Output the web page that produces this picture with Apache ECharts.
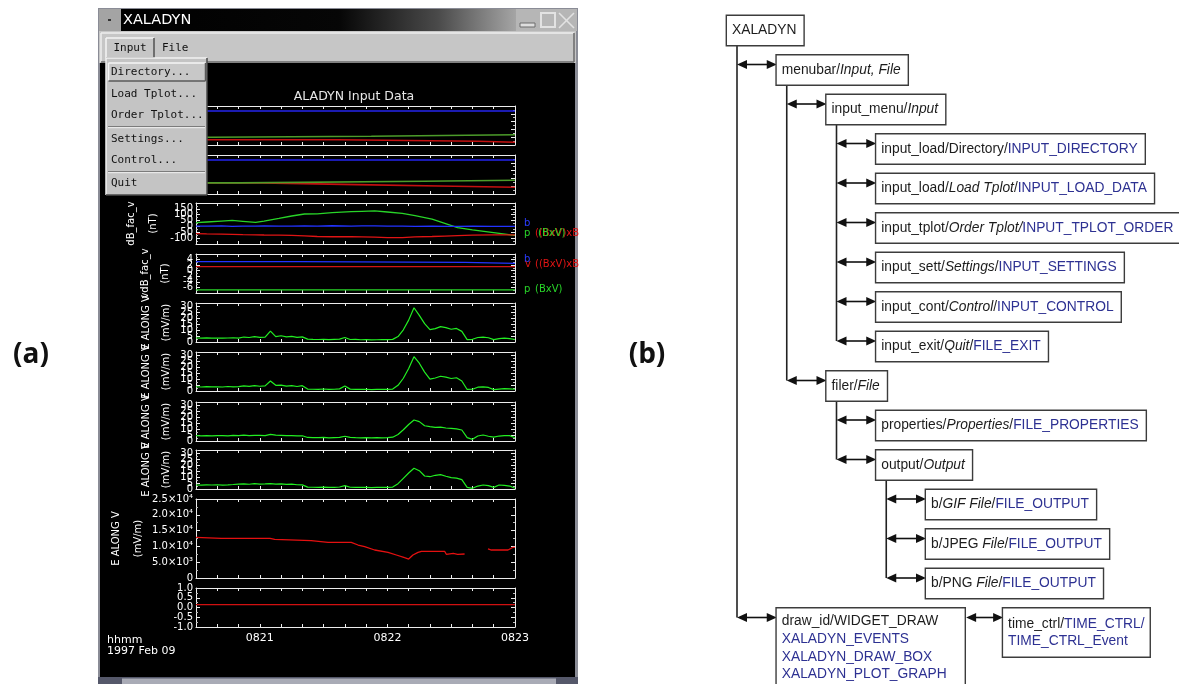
<!DOCTYPE html>
<html>
<head>
<meta charset="utf-8">
<title>XALADYN</title>
<script src="https://cdn.jsdelivr.net/npm/echarts@6/dist/echarts.min.js"></script>
<style>
  html, body { margin: 0; padding: 0; background: #fff; }
  #main { width: 1179px; height: 684px; }
</style>
</head>
<body>
<div id="main"></div>
<script>
// ---- values, time = seconds after 08:20:00 ----
// top two panels (step lines)
const p1BlueT = [30, 180];              const p1BlueV = [8.7, 8.7];
const p1GreenT = [30, 37.2, 112.4, 180]; const p1GreenV = [1.97, 2.23, 2.64, 2.64];
const p1RedT = [30, 96.5, 162.6, 180];   const p1RedV = [1.36, 0.95, 0.69, 0.69];
const p2BlueT = [30, 180];              const p2BlueV = [8.7, 8.7];
const p2GreenT = [30, 50.5, 137.2, 180]; const p2GreenV = [2.84, 3.28, 3.54, 3.54];
const p2RedT = [30, 60.4, 105.4, 151.3, 180]; const p2RedV = [2.84, 2.4, 1.99, 1.73, 1.73];

// dB_fac_v (nT)
const dbTime = [30, 35, 42, 47, 52, 58, 62, 69, 75, 81, 87, 94, 103, 108, 114, 120, 127, 133, 141, 147, 153, 160, 169, 178, 180];
const dbGreen = [32, 38, 46, 52, 44, 35, 46, 69, 89, 106, 108, 117, 126, 129, 132, 123, 112, 92, 63, 27, -11, -30, -50, -73, -75];
const dbBlue = [3, 2, 4, 1, 3, 2, 5, 2, 3, 4, 2, 6, 3, 5, 4, 2, 3, 1, 2, 0, 1, 2, 0, 1, 1];
const dbRed = [-62, -64, -66, -68, -70, -72, -73, -74, -76, -80, -86, -88, -88, -89, -92, -95, -95, -90, -86, -82, -78, -74, -72, -72, -72];

// vdB_fac_v (nT)
const vdbBlueT = [30, 78.7, 156.3, 180]; const vdbBlueV = [3.24, 3.0, 2.66, 2.66];
const vdbRedT = [30, 180];   const vdbRedV = [1.44, 1.44];
const vdbGreenT = [30, 180]; const vdbGreenV = [-6.9, -6.9];

// E ALONG panels (mV/m)
const eTime = [30, 32.5, 35, 37.5, 40, 42.5, 45, 47.5, 50, 52.5, 55, 57.5, 60, 62.5, 65, 67.5, 70, 72.5, 75, 77.5,
  80, 82.5, 85, 87.5, 90, 92.5, 95, 97.5, 100, 102.5, 105, 107.5, 110, 112.5, 115, 117.5, 120, 122.5, 125, 127.5,
  130, 132.5, 135, 137.5, 140, 142.5, 145, 147.5, 150, 152.5, 155, 157.5, 160, 162.5, 165, 167.5, 170, 172.5, 175, 177.5, 180];
const eAlong1 = [3.4, 3.2, 3.5, 3.3, 3.4, 3.2, 3.4, 3.6, 3.3, 4.2, 3.8, 4.5, 3.9, 4.1, 9.2, 4.6, 5.3, 4.4, 4.8, 3.9,
  4.3, 2.4, 2.2, 2.1, 2.3, 2.0, 2.2, 2.4, 3.8, 2.1, 2.3, 1.9, 2.0, 1.8, 1.9, 2.0, 2.0, 2.2, 4.6, 10.3,
  18.5, 29.0, 22.5, 15.5, 10.5, 11.3, 13.0, 12.2, 10.8, 11.5, 9.0, 2.0, 2.3, 3.8, 4.2, 3.6, 2.0, 2.8, 3.2, 2.9, 2.1];
const eAlong2 = [3.6, 3.4, 3.7, 3.5, 3.6, 3.4, 3.8, 3.5, 3.7, 4.4, 3.9, 4.6, 4.0, 4.3, 8.5, 4.8, 5.0, 4.2, 4.6, 3.8,
  4.5, 1.6, 1.5, 1.4, 1.7, 1.3, 1.5, 1.8, 4.2, 1.6, 1.4, 1.3, 1.5, 1.2, 1.4, 1.3, 1.4, 1.6, 4.8, 10.8,
  19.0, 29.0, 23.5, 16.0, 10.0, 11.0, 12.5, 11.8, 10.6, 11.2, 8.5, 1.3, 1.5, 3.2, 3.5, 3.0, 1.2, 1.6, 2.0, 1.8, 1.5];
const eAlong3 = [4.5, 4.3, 4.6, 4.4, 4.5, 4.6, 4.4, 4.8, 4.5, 4.9, 4.6, 4.8, 4.7, 4.5, 5.6, 4.9, 4.7, 4.5, 4.6, 4.3,
  4.4, 3.0, 2.9, 2.8, 3.0, 2.7, 2.9, 3.1, 4.0, 3.0, 2.8, 2.7, 2.9, 2.6, 2.8, 2.7, 2.8, 3.2, 5.5, 9.5,
  14.0, 17.8, 16.4, 12.9, 12.1, 11.5, 11.8, 11.0, 10.7, 10.2, 9.3, 2.8, 1.4, 4.2, 5.1, 4.0, 3.3, 4.2, 4.6, 4.5, 2.8];
const eAlong4 = [3.4, 3.3, 3.5, 3.4, 3.6, 3.3, 3.5, 3.8, 4.2, 4.4, 4.0, 4.5, 4.1, 4.3, 4.6, 4.2, 4.4, 3.9, 4.1, 3.6,
  3.5, 1.6, 1.5, 1.4, 1.6, 1.3, 1.4, 1.7, 2.8, 1.5, 1.4, 1.3, 1.4, 1.2, 1.3, 1.4, 1.4, 1.6, 4.5, 9.0,
  13.5, 17.5, 15.5, 11.0, 10.4, 11.6, 12.1, 10.8, 9.6, 9.2, 7.9, 1.4, 0.6, 2.5, 3.4, 2.8, 1.4, 3.4, 3.0, 2.5, 0.6];

// E ALONG V (mV/m), null = data gap
const evTime = [30, 41.9, 64.8, 65.4, 67, 84.2, 92.1, 103, 106.2, 109.3, 114, 120.3, 124.2, 128.1, 130, 132, 134.4, 136,
  146.9, 147.7, 151, 153, 156.3, 160, 167.3, 168.9, 176.7, 179.1, 180];
const evValues = [12880, 12560, 12560, 12880, 12250, 11800, 11300, 11300, 10440, 9900, 8860, 8130, 7280, 6420, 6010, 7280, 8130, 8450,
  8450, 7500, 7800, 7500, 7600, null, 9180, 8860, 8860, 9720, 9720];

// bottom panel
const lastT = [30, 180]; const lastV = [0.15, 0.15];

// tick labels
const timeTicks = [60, 120, 180];
const timeLabels = ['0821', '0822', '0823'];
const eTickValues = [0, 5, 10, 15, 20, 25, 30];
const lastTickValues = [-1, -0.5, 0, 0.5, 1];

// widget tree (b)
const treeLabels = [
  '{n|XALADYN}',
  '{n|menubar/}{i|Input, File}',
  '{n|input_menu/}{i|Input}',
  '{n|input_load/Directory/}{b|INPUT_DIRECTORY}',
  '{n|input_load/}{i|Load Tplot}{n|/}{b|INPUT_LOAD_DATA}',
  '{n|input_tplot/}{i|Order Tplot/}{b|INPUT_TPLOT_ORDER}',
  '{n|input_sett/}{i|Settings}{n|/}{b|INPUT_SETTINGS}',
  '{n|input_cont/}{i|Control}{n|/}{b|INPUT_CONTROL}',
  '{n|input_exit/}{i|Quit}{n|/}{b|FILE_EXIT}',
  '{n|filer/}{i|File}',
  '{n|properties/}{i|Properties}{n|/}{b|FILE_PROPERTIES}',
  '{n|output/}{i|Output}',
  '{n|b/}{i|GIF File}{n|/}{b|FILE_OUTPUT}',
  '{n|b/JPEG }{i|File}{n|/}{b|FILE_OUTPUT}',
  '{n|b/PNG }{i|File}{n|/}{b|FILE_OUTPUT}',
  '{n|draw_id/WIDGET_DRAW}\n{b|XALADYN_EVENTS}\n{b|XALADYN_DRAW_BOX}\n{b|XALADYN_PLOT_GRAPH}',
  '{n|time_ctrl/}{b|TIME_CTRL/}\n{b|TIME_CTRL_Event}'
];
const treeDepth = [0, 1, 2, 3, 3, 3, 3, 3, 3, 2, 3, 3, 4, 4, 4, 1, 5.55];
const treeRow = [0, 1, 2, 3, 4, 5, 6, 7, 8, 9, 10, 11, 12, 13, 14, 15, 15];
const treeParent = [-1, 0, 1, 2, 2, 2, 2, 2, 2, 1, 9, 9, 11, 11, 11, 0, 15];

// ---- layout ----
const PLOT_LEFT = 196, PLOT_W = 319;
const panelTop = [106, 155, 203, 254, 303, 352, 402, 450, 499, 588];
const panelH = [39, 39, 41, 39, 39, 39, 39, 39, 79, 39];
const AX = '#ececec';
const LBL_FONT = 'DejaVu Sans';

const sup = { 3: '\u00b3', 4: '\u2074' };
function sciFmt(v) {
  if (v === 0) return '0';
  const e = Math.floor(Math.log10(v) + 1e-9);
  return (v / Math.pow(10, e)).toFixed(1) + '\u00d710' + sup[e];
}
const eCfg = { min: 0, max: 33, interval: 5, name: 'E ALONG V\n(mV/m)', gap: 20, lh: 20, ticks: eTickValues };
const yCfg = [
  { min: 0, max: 10, interval: 2, hide: true },
  { min: 0, max: 10, interval: 2, hide: true },
  { min: -150, max: 200, interval: 50, name: 'dB_fac_v\n(nT)', gap: 32, lh: 22 },
  { min: -8, max: 6, interval: 2, name: 'vdB_fac_v\n(nT)', gap: 21, lh: 20 },
  eCfg, eCfg, eCfg, eCfg,
  { min: 0, max: 25000, interval: 5000, name: 'E ALONG V\n(mV/m)', gap: 47, lh: 22, fmt: sciFmt, showEnds: true },
  { min: -1, max: 1, interval: 0.5, fmt: v => v.toFixed(1), ticks: lastTickValues }
];

function timeAxis(gi, pos, showLabel) {
  return {
    type: 'value', gridIndex: gi, position: pos, min: 30, max: 180, interval: 10,
    axisLine: { show: true, onZero: false, lineStyle: { color: AX, width: 1 } },
    axisTick: { show: true, inside: true, length: 3, lineStyle: { color: AX } },
    axisLabel: {
      show: showLabel, color: '#fff', fontFamily: LBL_FONT, fontSize: 11, margin: 6,
      showMinLabel: false, showMaxLabel: true,
      formatter: v => { const k = timeTicks.indexOf(v); return k < 0 ? '' : timeLabels[k]; }
    },
    splitLine: { show: false }
  };
}

function valueAxis(gi, pos, c) {
  const left = pos === 'left';
  const label = {
    show: left && !c.hide, color: '#fff', fontFamily: LBL_FONT, fontSize: 10, margin: 3,
    showMinLabel: !!c.showEnds, showMaxLabel: !!c.showEnds, hideOverlap: false,
    formatter: c.fmt || (v => String(v))
  };
  if (c.ticks) {
    // end values repeated so that the min/max label check only drops a duplicate
    label.customValues = [c.ticks[0]].concat(c.ticks, [c.ticks[c.ticks.length - 1]]);
    label.showMinLabel = true;
    label.showMaxLabel = true;
  }
  return {
    type: 'value', gridIndex: gi, position: pos, min: c.min, max: c.max, interval: c.interval,
    name: left && c.name ? c.name : '', nameLocation: 'middle', nameRotate: 90, nameGap: c.gap || 0,
    nameMoveOverlap: false,
    nameTextStyle: { color: '#fff', fontFamily: LBL_FONT, fontSize: 10, lineHeight: c.lh || 20 },
    axisLine: { show: true, onZero: false, lineStyle: { color: AX, width: 1 } },
    axisTick: { show: true, inside: true, length: 4, lineStyle: { color: AX } },
    minorTick: { show: true, splitNumber: 2, length: 2, lineStyle: { color: '#bbb' } },
    axisLabel: label,
    splitLine: { show: false }
  };
}

function lineSeries(gi, t, v, color, width, step) {
  return {
    type: 'line', xAxisIndex: 2 * gi, yAxisIndex: 2 * gi,
    data: t.map((x, k) => [x, v[k]]),
    showSymbol: false, symbol: 'none', step: step || false,
    lineStyle: { color: color, width: width || 1.2 }, itemStyle: { color: color },
    silent: true, animation: false, z: 3
  };
}

const grids = [], xAxes = [], yAxes = [];
panelTop.forEach((top, i) => {
  grids.push({ left: PLOT_LEFT, top: top, width: PLOT_W, height: panelH[i], show: false, containLabel: false, outerBoundsMode: 'none' });
  xAxes.push(timeAxis(i, 'bottom', i === panelTop.length - 1), timeAxis(i, 'top', false));
  yAxes.push(valueAxis(i, 'left', yCfg[i]), valueAxis(i, 'right', yCfg[i]));
});

// hidden grid for the widget tree: x = depth, y = row
const TREE_GRID = grids.length;
const TREE_AXIS = xAxes.length;
grids.push({ left: 727, top: 16, width: 497.5, height: 632, show: false, containLabel: false, outerBoundsMode: 'none' });
xAxes.push({ type: 'value', gridIndex: TREE_GRID, min: 0, max: 10, show: false });
yAxes.push({ type: 'value', gridIndex: TREE_GRID, min: 0, max: 16, inverse: true, show: false });

const series = [
  lineSeries(0, p1BlueT, p1BlueV, '#2424ee', 1.4, 'end'),
  lineSeries(0, p1GreenT, p1GreenV, '#4c9c2a', 1.6, 'end'),
  lineSeries(0, p1RedT, p1RedV, '#c41010', 1.6, 'end'),
  lineSeries(1, p2BlueT, p2BlueV, '#2424ee', 1.4, 'end'),
  lineSeries(1, p2RedT, p2RedV, '#c41010', 1.6, 'end'),
  lineSeries(1, p2GreenT, p2GreenV, '#4c9c2a', 1.6, 'end'),
  lineSeries(2, dbTime, dbGreen, '#28d428', 1.3),
  lineSeries(2, dbTime, dbBlue, '#2233ff', 1.3),
  lineSeries(2, dbTime, dbRed, '#e01414', 1.3),
  lineSeries(3, vdbBlueT, vdbBlueV, '#2233ff', 1.3, 'end'),
  lineSeries(3, vdbRedT, vdbRedV, '#d01414', 1.3),
  lineSeries(3, vdbGreenT, vdbGreenV, '#28d428', 1.3),
  lineSeries(4, eTime, eAlong1, '#22ee22', 1.2),
  lineSeries(5, eTime, eAlong2, '#22ee22', 1.2),
  lineSeries(6, eTime, eAlong3, '#22ee22', 1.2),
  lineSeries(7, eTime, eAlong4, '#22ee22', 1.2),
  lineSeries(8, evTime, evValues, '#e41010', 1.3),
  lineSeries(9, lastT, lastV, '#d01010', 1.3)
];

// ---- widget tree drawn as a custom series ----
const TREE_FONT = 'Liberation Sans', TREE_SIZE = 13.8;
function richFor(lh) {
  const base = { fontSize: TREE_SIZE, fontFamily: TREE_FONT, lineHeight: lh };
  return {
    n: Object.assign({ fill: '#1c1c1c' }, base),
    i: Object.assign({ fill: '#1c1c1c', fontStyle: 'italic' }, base),
    b: Object.assign({ fill: '#2d3192' }, base)
  };
}
function arrowEls(x1, x2, y) {
  const h = 10, w = 4.5;
  return [
    { type: 'line', shape: { x1: x1 + h - 2, y1: y, x2: x2 - h + 2, y2: y }, style: { stroke: '#111', lineWidth: 1.6 } },
    { type: 'polygon', shape: { points: [[x1, y], [x1 + h, y - w], [x1 + h, y + w]] }, style: { fill: '#111' } },
    { type: 'polygon', shape: { points: [[x2, y], [x2 - h, y - w], [x2 - h, y + w]] }, style: { fill: '#111' } }
  ];
}
function renderNode(params, api) {
  const i = params.dataIndex;
  const p = api.coord([api.value(0), api.value(1)]);
  const left = p[0], top = p[1];
  const lines = treeLabels[i].split('\n').length;
  let pad = [7, 7, 7, 5], lh = 15;
  if (lines === 4) { pad = [4, 18, 8, 5]; lh = 17.7; }
  if (lines === 2) { pad = [6.5, 5, 6.5, 5]; lh = 17.5; }
  const kids = [];
  kids.push({
    type: 'text', x: left, y: top, z2: 10,
    style: {
      text: treeLabels[i], rich: richFor(lh), fontSize: TREE_SIZE, fontFamily: TREE_FONT, lineHeight: lh,
      padding: pad, backgroundColor: '#fff', borderColor: '#3c3c3c', borderWidth: 1.4, align: 'left', verticalAlign: 'top'
    }
  });
  const par = treeParent[i];
  if (par >= 0) {
    const pp = api.coord([treeDepth[par], treeRow[par]]);
    if (treeRow[par] === treeRow[i]) {
      kids.push.apply(kids, arrowEls(left - 37, left, top + 9));
    } else {
      kids.push.apply(kids, arrowEls(pp[0] + 10, left, top + 9));
    }
  }
  let last = -1;
  treeParent.forEach((q, k) => { if (q === i && treeRow[k] !== treeRow[i]) last = Math.max(last, treeRow[k]); });
  if (last >= 0) {
    const lastTop = api.coord([0, last])[1];
    kids.push({ type: 'line', shape: { x1: left + 10, y1: top + 29, x2: left + 10, y2: lastTop + 9 }, style: { stroke: '#222', lineWidth: 1.6 } });
  }
  return { type: 'group', children: kids };
}
series.push({
  type: 'custom', coordinateSystem: 'cartesian2d', xAxisIndex: TREE_AXIS, yAxisIndex: TREE_AXIS,
  data: treeDepth.map((d, i) => [d, treeRow[i]]),
  encode: { x: 0, y: 1 }, renderItem: renderNode, clip: false, silent: true, animation: false, z: 5
});

// ---- screenshot chrome for (a) ----
const chrome = [];
const R = (x, y, w, h, fill, z, stroke, lw) => chrome.push({ type: 'rect', z: z, silent: true, shape: { x: x, y: y, width: w, height: h },
  style: { fill: fill || 'rgba(0,0,0,0)', stroke: stroke || null, lineWidth: lw || 1 } });
const T = (x, y, s, font, fill, align, z) => chrome.push({ type: 'text', z: z, silent: true, x: x, y: y,
  style: { text: s, font: font, fill: fill, align: align || 'left', verticalAlign: 'middle' } });
const L = (x1, y1, x2, y2, stroke, lw, z) => chrome.push({ type: 'line', z: z, silent: true, shape: { x1: x1, y1: y1, x2: x2, y2: y2 },
  style: { stroke: stroke, lineWidth: lw || 1 } });
function bevel(x, y, w, h, light, dark, z) {
  L(x, y + h, x, y, light, 1.5, z); L(x, y, x + w, y, light, 1.5, z);
  L(x + w, y, x + w, y + h, dark, 1.5, z); L(x, y + h, x + w, y + h, dark, 1.5, z);
}
const MONO = '11px "DejaVu Sans Mono"';

// window frame, title bar, menubar
R(98, 8, 480, 676, '#8a8c96', -30);
R(100, 63, 475, 614, '#000', -29);
chrome.push({ type: 'rect', z: -28, silent: true, shape: { x: 121, y: 9, width: 396, height: 22 },
  style: { fill: new echarts.graphic.LinearGradient(0, 0, 1, 0, [
    { offset: 0, color: '#000' }, { offset: 0.55, color: '#060606' }, { offset: 0.8, color: '#4a4a4a' }, { offset: 1, color: '#a6a6a6' }]) } });
R(99, 9, 22, 22, '#a4a4a4', -28);
R(108, 19, 3, 2, '#333', -27);
R(516, 9, 61, 22, '#b6b6b6', -28);
R(520, 23, 15, 4, '#dedede', -27, '#6c6c6c', 1);
R(541, 13, 14, 14, null, -27, '#e2e2e2', 2);
L(559, 13, 574, 28, '#e2e2e2', 1.6, -27); L(574, 13, 559, 28, '#e2e2e2', 1.6, -27);
T(123, 20.5, 'XALADYN', '14.5px "DejaVu Sans"', '#fff', 'left', -27);
R(99, 31, 477, 32, '#c6c6c6', -28);
bevel(101, 33, 473, 29, '#eeeeee', '#6a6a6a', -27);
R(106, 38, 48, 20, '#c6c6c6', -27);
bevel(106, 38, 48, 20, '#f4f4f4', '#505050', -26);
T(130, 48.5, 'Input', MONO, '#111', 'center', -26);
T(162, 48.5, 'File', MONO, '#111', 'left', -26);

// plot title and time labels
T(354, 97, 'ALADYN Input Data', '12.5px "DejaVu Sans"', '#e6e6e6', 'center', 10);
T(107, 640, 'hhmm', '11px "DejaVu Sans"', '#fff', 'left', 10);
T(107, 651, '1997 Feb 09', '11px "DejaVu Sans"', '#fff', 'left', 10);

// line labels beside dB_fac_v and vdB_fac_v
const LEG = '10px "DejaVu Sans"';
T(524, 223, 'b', LEG, '#2a3cff', 'left', 10);
T(524, 233, 'p', LEG, '#28d428', 'left', 10);
T(535, 233, '((BxV)xB', LEG, '#e01414', 'left', 10);
T(538, 233, '(BxV)', LEG, '#28d428', 'left', 11);
T(524, 259, 'b', LEG, '#2a3cff', 'left', 10);
T(525, 264, 'v', LEG, '#e01414', 'left', 10);
T(535, 264, '((BxV)xB', LEG, '#e01414', 'left', 10);
T(524, 289, 'p', LEG, '#28d428', 'left', 10);
T(535, 289, '(BxV)', LEG, '#28d428', 'left', 10);

// bottom scrollbar
R(98, 677, 480, 7, '#55586a', -28);
R(122, 678.5, 434, 5.5, '#a9abb6', -27);

// Input drop-down menu (on top of everything)
R(106, 58, 101, 137, '#c4c4c4', 100);
bevel(106, 58, 101, 137, '#f2f2f2', '#4a4a4a', 101);
R(108.5, 63, 97, 18, '#c8c8c8', 101);
bevel(108.5, 63, 97, 18, '#f6f6f6', '#5a5a5a', 102);
const menuItems = ['Directory...', 'Load Tplot...', 'Order Tplot...', 'Settings...', 'Control...', 'Quit'];
const menuY = [72, 94, 115.5, 139, 160.5, 183];
menuItems.forEach((s, k) => T(111, menuY[k], s, MONO, '#111', 'left', 103));
[126.5, 171.5].forEach(y => { L(108, y, 205, y, '#7c7c7c', 1, 102); L(108, y + 1.2, 205, y + 1.2, '#f0f0f0', 1, 102); });

// panel letters
T(31, 355, '(a)', 'bold 28px "Open Sans"', '#111', 'center', 10);
T(647, 355, '(b)', 'bold 28px "Open Sans"', '#111', 'center', 10);

const chart = echarts.init(document.getElementById('main'), null, { renderer: 'canvas' });
chart.setOption({
  backgroundColor: '#fff',
  animation: false,
  grid: grids,
  xAxis: xAxes,
  yAxis: yAxes,
  series: series,
  graphic: { elements: chrome }
});
</script>
</body>
</html>
